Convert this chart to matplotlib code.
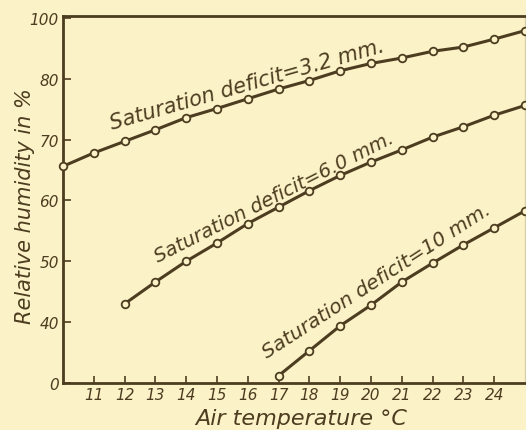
import matplotlib.pyplot as plt

# air temperature (deg C) and relative humidity (%) for three saturation deficits
temp_32 = [10, 11, 12, 13, 14, 15, 16, 17, 18, 19, 20, 21, 22, 23, 24, 25]
rh_32 = [65.6, 67.8, 69.7, 71.6, 73.6, 75.1, 76.7, 78.3, 79.7, 81.3, 82.5, 83.4, 84.5, 85.2, 86.5, 87.9]

temp_60 = [12, 13, 14, 15, 16, 17, 18, 19, 20, 21, 22, 23, 24, 25]
rh_60 = [43.0, 46.6, 50.0, 53.0, 56.2, 58.9, 61.6, 64.1, 66.3, 68.3, 70.4, 72.1, 74.0, 75.6]

temp_10 = [17, 18, 19, 20, 21, 22, 23, 24, 25]
rh_10 = [31.2, 35.3, 39.4, 42.8, 46.6, 49.7, 52.7, 55.5, 58.3]

x_ticks = list(range(11, 25))
# the y axis is broken: bottom line is labelled 0 and the top line 100
y_tick_pos = [30, 40, 50, 60, 70, 80, 90]
y_tick_labels = ["0", "40", "50", "60", "70", "80", "100"]

bg = "#fcf2c8"
ink = "#4d3d20"

plt.rcParams['font.family'] = ['DejaVu Sans']
plt.rcParams['font.style'] = 'italic'

fig = plt.figure(figsize=(5.26, 4.31), dpi=100, facecolor=bg)
ax = fig.add_axes([63 / 526, 47 / 431, 462 / 526, 367 / 431], facecolor=bg)

for xs, ys in [(temp_32, rh_32), (temp_60, rh_60), (temp_10, rh_10)]:
    ax.plot(xs, ys, color=ink, lw=2.2, marker="o", ms=5.5, mfc=bg,
            mec=ink, mew=1.3, clip_on=False, zorder=3)

ax.set_xlim(10, 25)
ax.set_ylim(30, 90.3)
ax.set_xticks(x_ticks)
ax.set_xticklabels([str(t) for t in x_ticks])
ax.set_yticks(y_tick_pos)
ax.set_yticklabels(y_tick_labels)
ax.tick_params(axis="both", direction="in", color=ink, labelcolor=ink,
               labelsize=11, width=1.2)
ax.tick_params(axis="x", length=5, pad=3)
ax.tick_params(axis="y", length=6, pad=3)

for side in ["left", "bottom", "top"]:
    ax.spines[side].set_color(ink)
    ax.spines[side].set_linewidth(2.0)
ax.spines["right"].set_color("#d8cfa8")
ax.spines["right"].set_linewidth(1.0)

txt = dict(color=ink, rotation_mode="anchor", ha="left",
           va="baseline", style="italic")
ax.text(11.58, 71.7, "Saturation deficit=3.2 mm.", rotation=16,
        fontsize=15, **txt)
ax.text(13.08, 49.9, "Saturation deficit=6.0 mm.", rotation=27,
        fontsize=14, **txt)
ax.text(16.62, 34.1, "Saturation deficit=10 mm.", rotation=33,
        fontsize=14.5, **txt)

fig.text(301 / 526, 1 - 425 / 431, "Air temperature °C", color=ink,
         fontsize=16, ha="center", va="baseline", style="italic")
fig.text(25 / 526, 1 - 206 / 431, "Relative humidity in %", color=ink,
         fontsize=15, ha="center", va="center", rotation=90, style="italic")

fig.savefig("out.png", dpi=100, facecolor=bg)
